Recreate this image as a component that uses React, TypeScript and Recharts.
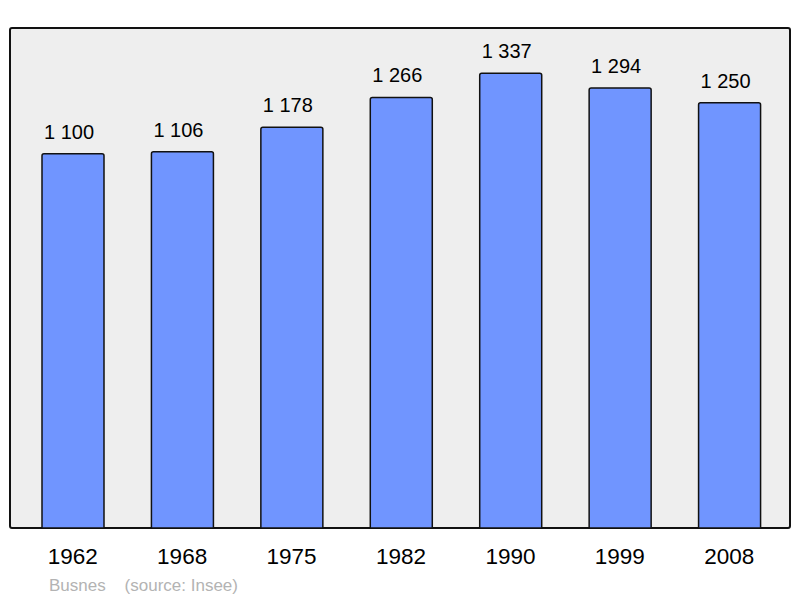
import React from 'react';
import { BarChart, Bar, XAxis, YAxis, LabelList } from 'recharts';

const years = ['1962', '1968', '1975', '1982', '1990', '1999', '2008'];
const population = [1100, 1106, 1178, 1266, 1337, 1294, 1250];
const valueLabels = ['1 100', '1 106', '1 178', '1 266', '1 337', '1 294', '1 250'];

const data = years.map((year, i) => ({ year, population: population[i], label: valueLabels[i] }));

const FONT = '"Liberation Sans", Arial, sans-serif';

function YearTick({ x, y, payload }: any) {
    return (
        <text x={x} y={y + 28} textAnchor="middle" fontSize={22.5} fontFamily={FONT} fill="#000">
            {payload.value}
        </text>
    );
}

function ValueLabel({ x, y, width, value }: any) {
    return (
        <text x={x + width / 2 - 4} y={y - 15} textAnchor="middle" fontSize={20} fontFamily={FONT} fill="#000">
            {value}
        </text>
    );
}

export default function App() {
    return (
        <div style={{ position: 'absolute', left: 0, top: 0, width: 800, height: 598, background: '#fff' }}>
            <div
                style={{
                    position: 'absolute',
                    left: 9,
                    top: 27,
                    width: 782,
                    height: 502,
                    boxSizing: 'border-box',
                    border: '2px solid #111',
                    borderRadius: 3,
                    background: '#eeeeee',
                }}
            />
            <div style={{ position: 'absolute', left: 0, top: 0 }}>
                <BarChart
                    width={800}
                    height={598}
                    data={data}
                    margin={{ top: 27, right: 16, bottom: 40, left: 18 }}
                    barSize={62}
                >
                    <XAxis
                        dataKey="year"
                        axisLine={false}
                        tickLine={false}
                        height={30}
                        tick={<YearTick />}
                        interval={0}
                    />
                    <YAxis hide domain={[0, 1473]} />
                    <Bar
                        dataKey="population"
                        fill="#7095ff"
                        stroke="#111"
                        strokeWidth={1.5}
                        radius={[2, 2, 0, 0]}
                        isAnimationActive={false}
                    >
                        <LabelList dataKey="label" content={<ValueLabel />} />
                    </Bar>
                </BarChart>
            </div>
            <div
                style={{
                    position: 'absolute',
                    left: 49,
                    top: 576,
                    fontFamily: FONT,
                    fontSize: 17,
                    color: '#b3b3b3',
                    whiteSpace: 'pre',
                }}
            >
                {'Busnes    (source: Insee)'}
            </div>
        </div>
    );
}
